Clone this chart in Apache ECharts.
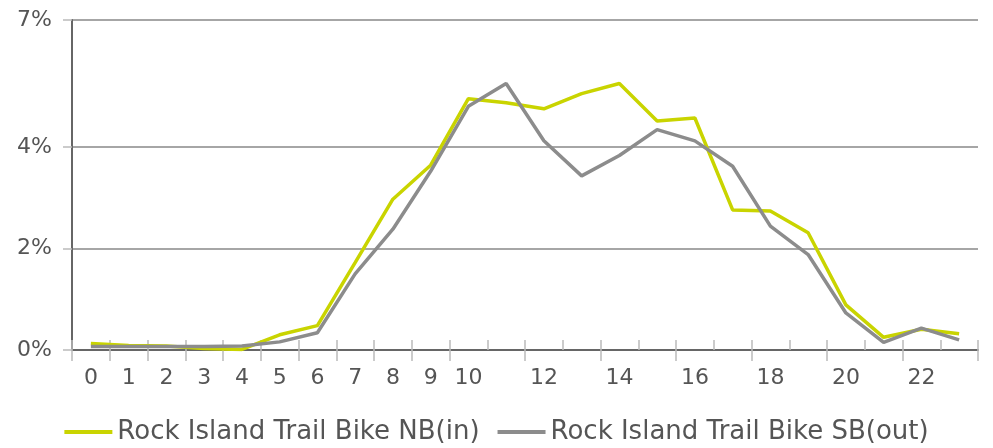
<!DOCTYPE html>
<html>
<head>
<meta charset="utf-8">
<script src="https://cdn.jsdelivr.net/npm/echarts@6/dist/echarts.min.js"></script>
<style>
  html, body { margin: 0; padding: 0; background: #fff; }
  #chart { width: 993px; height: 448px; }
</style>
</head>
<body>
<div id="chart"></div>
<script>
// hour of day
const hours = ['0','1','2','3','4','5','6','7','8','9','10','11','12','13','14','15','16','17','18','19','20','21','22','23'];
// share of daily count, percent
const nbIn = [0.13, 0.09, 0.08, 0.03, 0.01, 0.30, 0.48, 1.72, 2.97, 3.64, 4.95, 4.87, 4.75, 5.05, 5.25, 4.51, 4.57, 2.76, 2.74, 2.31, 0.89, 0.25, 0.41, 0.32];
const sbOut = [0.07, 0.07, 0.07, 0.07, 0.08, 0.16, 0.34, 1.50, 2.38, 3.52, 4.80, 5.25, 4.12, 3.43, 3.83, 4.34, 4.12, 3.62, 2.44, 1.88, 0.73, 0.15, 0.43, 0.20];
const yTicks = [0, 2, 4, 6.5];

const textColor = '#555';
const font = 'DejaVu Sans';

var myChart = echarts.init(document.getElementById('chart'));
var option = {
  animation: false,
  grid: { left: 72, right: 15, top: 20, bottom: 98 },
  legend: {
    bottom: -2,
    left: 'center',
    icon: 'rect',
    itemWidth: 48,
    itemHeight: 4,
    itemGap: 18,
    textStyle: { color: textColor, fontSize: 26, fontFamily: font },
    data: ['Rock Island Trail Bike NB(in)', 'Rock Island Trail Bike SB(out)']
  },
  xAxis: [{
    type: 'category',
    data: hours,
    boundaryGap: true,
    axisLine: { lineStyle: { color: '#666', width: 2 } },
    axisTick: { show: true, length: 11, lineStyle: { color: '#bbb', width: 1.5 } },
    axisLabel: {
      color: textColor, fontSize: 22, fontFamily: font, margin: 17,
      interval: function (i) { return i <= 10 || i % 2 === 0; }
    },
    splitLine: { show: false }
  }, {
    type: 'category',
    data: hours,
    position: 'bottom',
    boundaryGap: true,
    axisLine: { show: false },
    axisTick: { show: true, inside: true, length: 10, lineStyle: { color: '#bbb', width: 1.5 } },
    axisLabel: { show: false },
    splitLine: { show: false }
  }],
  yAxis: {
    type: 'value',
    min: 0,
    max: 6.5,
    axisLine: { show: true, lineStyle: { color: '#666', width: 2 } },
    axisTick: { show: true, length: 9, customValues: yTicks, lineStyle: { color: '#bbb', width: 1.5 } },
    axisLabel: {
      color: textColor, fontSize: 22, fontFamily: font, margin: 20,
      customValues: yTicks,
      formatter: function (v) { return Math.round(v) + '%'; }
    },
    splitLine: { show: true, lineStyle: { color: '#888', width: 1.5 } }
  },
  series: [{
    name: 'Rock Island Trail Bike NB(in)',
    type: 'line',
    data: nbIn,
    symbol: 'none',
    lineStyle: { color: '#c9d400', width: 3.5 },
    itemStyle: { color: '#c9d400' }
  }, {
    name: 'Rock Island Trail Bike SB(out)',
    type: 'line',
    data: sbOut,
    symbol: 'none',
    lineStyle: { color: '#8c8c8c', width: 3.5 },
    itemStyle: { color: '#8c8c8c' }
  }]
};
option && myChart.setOption(option);
</script>
</body>
</html>
